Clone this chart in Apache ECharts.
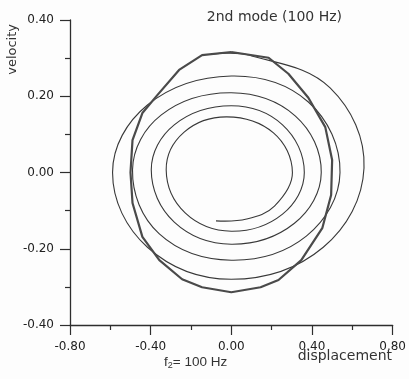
<!DOCTYPE html>
<html>
<head>
<meta charset="utf-8">
<script src="https://cdn.jsdelivr.net/npm/echarts@6/dist/echarts.min.js"></script>
<style>
html,body{margin:0;padding:0;background:#fdfdfd;}
#chart{width:409px;height:379px;}
</style>
</head>
<body>
<div id="chart"></div>
<script>
// Axis tick labels
const xTickLabels = ['-0.80', '-0.40', '0.00', '0.40', '0.80'];
const yTickLabels = ['-0.40', '-0.20', '0.00', '0.20', '0.40'];

// Spiral (thin line): displacement and velocity, from the inner end outward
const spiralDisp = [
  -0.076, 0.076, 0.214, 0.303, 0.209, -0.022, -0.234, -0.323,
  -0.229, 0.000, 0.254, 0.362, 0.254, 0.000, -0.283, -0.397,
  -0.283, 0.000, 0.313, 0.446, 0.318, 0.000, -0.347, -0.490,
  -0.357, 0.000, 0.372, 0.539, 0.382, 0.000, -0.416, -0.589,
  -0.416, 0.000, 0.456, 0.658, 0.490, 0.086, -0.086
];
const spiralVel = [
  -0.127, -0.122, -0.088, 0.000, 0.104, 0.146, 0.106, 0.007,
  -0.106, -0.154, -0.109, 0.000, 0.125, 0.175, 0.125, 0.007,
  -0.130, -0.188, -0.133, 0.000, 0.148, 0.209, 0.151, 0.007,
  -0.161, -0.230, -0.167, 0.000, 0.185, 0.253, 0.177, 0.000,
  -0.196, -0.280, -0.196, 0.012, 0.222, 0.308, 0.311
];

// Closed orbit (bold polygonal line)
const orbitDisp = [
  0.000, 0.185, 0.283, 0.382, 0.466, 0.500, 0.495, 0.451, 0.347, 0.234, 0.145, 0.000,
  -0.145, -0.244, -0.357, -0.441, -0.490, -0.500, -0.490, -0.441, -0.367, -0.259, -0.145, 0.000
];
const orbitVel = [
  0.316, 0.301, 0.259, 0.196, 0.119, 0.033, -0.059, -0.146, -0.230, -0.282, -0.301, -0.314,
  -0.301, -0.280, -0.230, -0.169, -0.080, 0.000, 0.085, 0.156, 0.203, 0.269, 0.308, 0.316
];

const pairs = (xs, ys) => xs.map((x, i) => [x, ys[i]]);
const fmt = (labels, min, step) => v => labels[Math.round((v - min) / step)] ?? '';

const chart = echarts.init(document.getElementById('chart'), null, {renderer: 'canvas'});
const axisCol = '#2e2e2e';
const labelStyle = {color: '#222', fontFamily: 'DejaVu Sans', fontSize: 12};

chart.setOption({
  backgroundColor: '#fdfdfd',
  animation: false,
  grid: {left: 70, right: 14, top: 20, bottom: 54},
  xAxis: {
    type: 'value', min: -0.8, max: 0.8, interval: 0.4,
    axisLine: {show: true, onZero: false, lineStyle: {color: axisCol, width: 1.3}},
    axisTick: {show: true, length: 10, lineStyle: {color: axisCol, width: 1.2}},
    minorTick: {show: true, splitNumber: 2, length: 5, lineStyle: {color: axisCol, width: 1.2}},
    splitLine: {show: false},
    axisLabel: Object.assign({margin: 16, formatter: fmt(xTickLabels, -0.8, 0.4)}, labelStyle)
  },
  yAxis: {
    type: 'value', min: -0.4, max: 0.4, interval: 0.2,
    axisLine: {show: true, onZero: false, lineStyle: {color: axisCol, width: 1.3}},
    axisTick: {show: true, length: 10, lineStyle: {color: axisCol, width: 1.2}},
    minorTick: {show: true, splitNumber: 2, length: 5, lineStyle: {color: axisCol, width: 1.2}},
    splitLine: {show: false},
    axisLabel: Object.assign({margin: 16, formatter: fmt(yTickLabels, -0.4, 0.2)}, labelStyle)
  },
  graphic: [
    {type: 'text', left: 6, top: 24, rotation: Math.PI / 2,
     style: {text: 'velocity', font: '13px "DejaVu Sans"', fill: '#333'}},
    {type: 'text', right: 409 - 392, top: 349,
     style: {text: 'displacement', font: '14px "DejaVu Sans"', fill: '#333'}},
    {type: 'text', left: 164, top: 355,
     style: {
       text: '{a|f}{s|2}{a|= 100 Hz}',
       rich: {
         a: {fontFamily: 'Liberation Sans', fontSize: 13.5, fill: '#333', color: '#333'},
         s: {fontFamily: 'Liberation Sans', fontSize: 9, fill: '#333', color: '#333', padding: [8, 0, 0, 0]}
       }
     }},
    {type: 'text', right: 409 - 342, top: 10,
     style: {text: '2nd mode (100 Hz)', font: '14px "DejaVu Sans"', fill: '#333'}}
  ],
  series: [
    {
      type: 'custom',
      coordinateSystem: 'cartesian2d',
      data: pairs(spiralDisp, spiralVel),
      encode: {x: 0, y: 1},
      silent: true,
      z: 2,
      renderItem: function (params, api) {
        if (params.dataIndex !== 0) return null;
        const pts = spiralDisp.map((x, i) => api.coord([x, spiralVel[i]]));
        return {
          type: 'polyline',
          shape: {points: pts, smooth: 0.38},
          style: {stroke: '#383838', lineWidth: 1.1, fill: 'none'}
        };
      }
    },
    {
      type: 'line', data: pairs(orbitDisp, orbitVel), showSymbol: false, smooth: false,
      lineStyle: {color: '#4a4a4a', width: 2.2}, z: 3
    }
  ]
});
</script>
</body>
</html>
